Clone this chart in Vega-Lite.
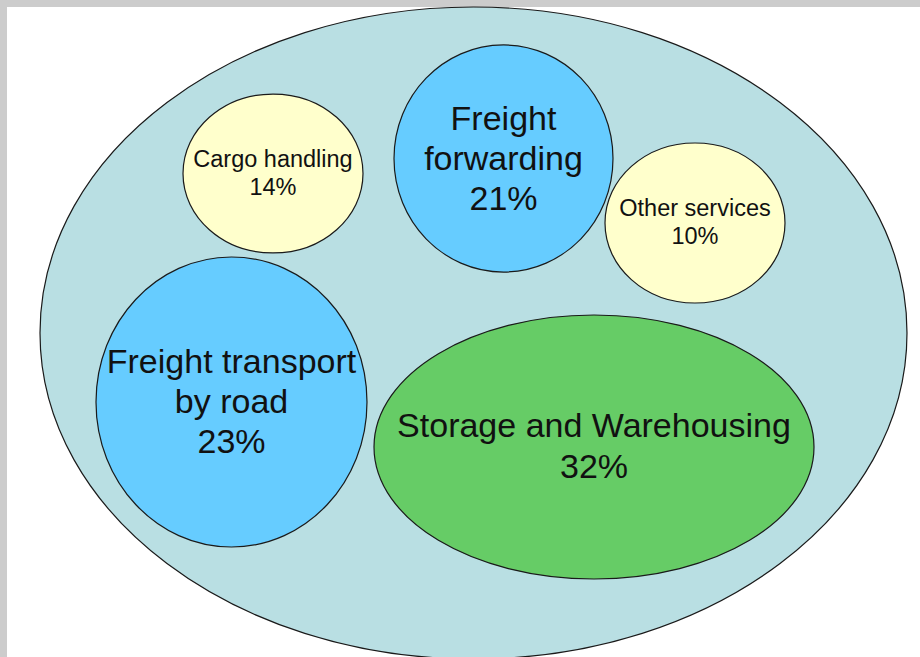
{
  "$schema": "https://vega.github.io/schema/vega-lite/v6.json",
  "width": 913,
  "height": 650,
  "autosize": {"type": "none"},
  "padding": {"left": 7, "top": 7, "right": 0, "bottom": 0},
  "background": "#cccccc",
  "config": {"view": {"fill": "white", "stroke": null}},
  "data": {
    "values": [
      {"name": "All logistics services", "share": 100, "x": 473.5, "y": 333, "w": 867, "text": ""},
      {"name": "Cargo handling", "share": 14, "x": 273, "y": 173.5, "w": 180, "text": "Cargo handling\n14%"},
      {"name": "Freight forwarding", "share": 21, "x": 503.5, "y": 158.5, "w": 219, "text": "Freight\nforwarding\n21%"},
      {"name": "Other services", "share": 10, "x": 695, "y": 223, "w": 180, "text": "Other services\n10%"},
      {"name": "Freight transport by road", "share": 23, "x": 231.5, "y": 402, "w": 271, "text": "Freight transport\nby road\n23%"},
      {"name": "Storage and Warehousing", "share": 32, "x": 594, "y": 447, "w": 440, "text": "Storage and Warehousing\n32%"}
    ]
  },
  "encoding": {
    "x": {"field": "x", "type": "quantitative", "scale": {"domain": [7, 920]}, "axis": null},
    "y": {"field": "y", "type": "quantitative", "scale": {"domain": [7, 657], "reverse": true}, "axis": null}
  },
  "layer": [
    {
      "mark": {"type": "point", "filled": true, "opacity": 1, "fillOpacity": 1, "stroke": "#1a1a1a", "strokeWidth": 1.2, "strokeOpacity": 1},
      "encoding": {
        "size": {"field": "w", "type": "quantitative", "scale": {"type": "pow", "exponent": 2, "domain": [0, 1000], "range": [0, 1000000]}, "legend": null},
        "shape": {
          "field": "name", "type": "nominal", "legend": null,
          "scale": {
            "domain": ["All logistics services", "Cargo handling", "Freight forwarding", "Other services", "Freight transport by road", "Storage and Warehousing"],
            "range": [
              "M1,0C1,0.4153,0.5523,0.752,0,0.752C-0.5523,0.752,-1,0.4153,-1,0C-1,-0.4153,-0.5523,-0.752,0,-0.752C0.5523,-0.752,1,-0.4153,1,0Z",
              "M1,0C1,0.4877,0.5523,0.883,0,0.883C-0.5523,0.883,-1,0.4877,-1,0C-1,-0.4877,-0.5523,-0.883,0,-0.883C0.5523,-0.883,1,-0.4877,1,0Z",
              "M1,0C1,0.5727,0.5523,1.037,0,1.037C-0.5523,1.037,-1,0.5727,-1,0C-1,-0.5727,-0.5523,-1.037,0,-1.037C0.5523,-1.037,1,-0.5727,1,0Z",
              "M1,0C1,0.491,0.5523,0.889,0,0.889C-0.5523,0.889,-1,0.491,-1,0C-1,-0.491,-0.5523,-0.889,0,-0.889C0.5523,-0.889,1,-0.491,1,0Z",
              "M1,0C1,0.591,0.5523,1.07,0,1.07C-0.5523,1.07,-1,0.591,-1,0C-1,-0.591,-0.5523,-1.07,0,-1.07C0.5523,-1.07,1,-0.591,1,0Z",
              "M1,0C1,0.3314,0.5523,0.6,0,0.6C-0.5523,0.6,-1,0.3314,-1,0C-1,-0.3314,-0.5523,-0.6,0,-0.6C0.5523,-0.6,1,-0.3314,1,0Z"
            ]
          }
        },
        "fill": {
          "field": "name", "type": "nominal", "legend": null,
          "scale": {
            "domain": ["All logistics services", "Cargo handling", "Freight forwarding", "Other services", "Freight transport by road", "Storage and Warehousing"],
            "range": ["#b9dfe3", "#ffffcc", "#66ccff", "#ffffcc", "#66ccff", "#66cc66"]
          }
        }
      }
    },
    {
      "transform": [{"filter": {"field": "name", "oneOf": ["Freight forwarding", "Freight transport by road"]}}],
      "mark": {"type": "text", "font": "Liberation Sans", "fontSize": 34, "lineHeight": 40, "lineBreak": "\n", "baseline": "middle", "align": "center", "dy": -39, "color": "#111111"},
      "encoding": {"text": {"field": "text", "type": "nominal"}}
    },
    {
      "transform": [{"filter": {"field": "name", "oneOf": ["Storage and Warehousing"]}}],
      "mark": {"type": "text", "font": "Liberation Sans", "fontSize": 34, "lineHeight": 41, "lineBreak": "\n", "baseline": "middle", "align": "center", "dy": -20, "color": "#111111"},
      "encoding": {"text": {"field": "text", "type": "nominal"}}
    },
    {
      "transform": [{"filter": {"field": "name", "oneOf": ["Cargo handling", "Other services"]}}],
      "mark": {"type": "text", "font": "Liberation Sans", "fontSize": 23.5, "lineHeight": 28, "lineBreak": "\n", "baseline": "middle", "align": "center", "dy": -14, "color": "#111111"},
      "encoding": {"text": {"field": "text", "type": "nominal"}}
    }
  ]
}
